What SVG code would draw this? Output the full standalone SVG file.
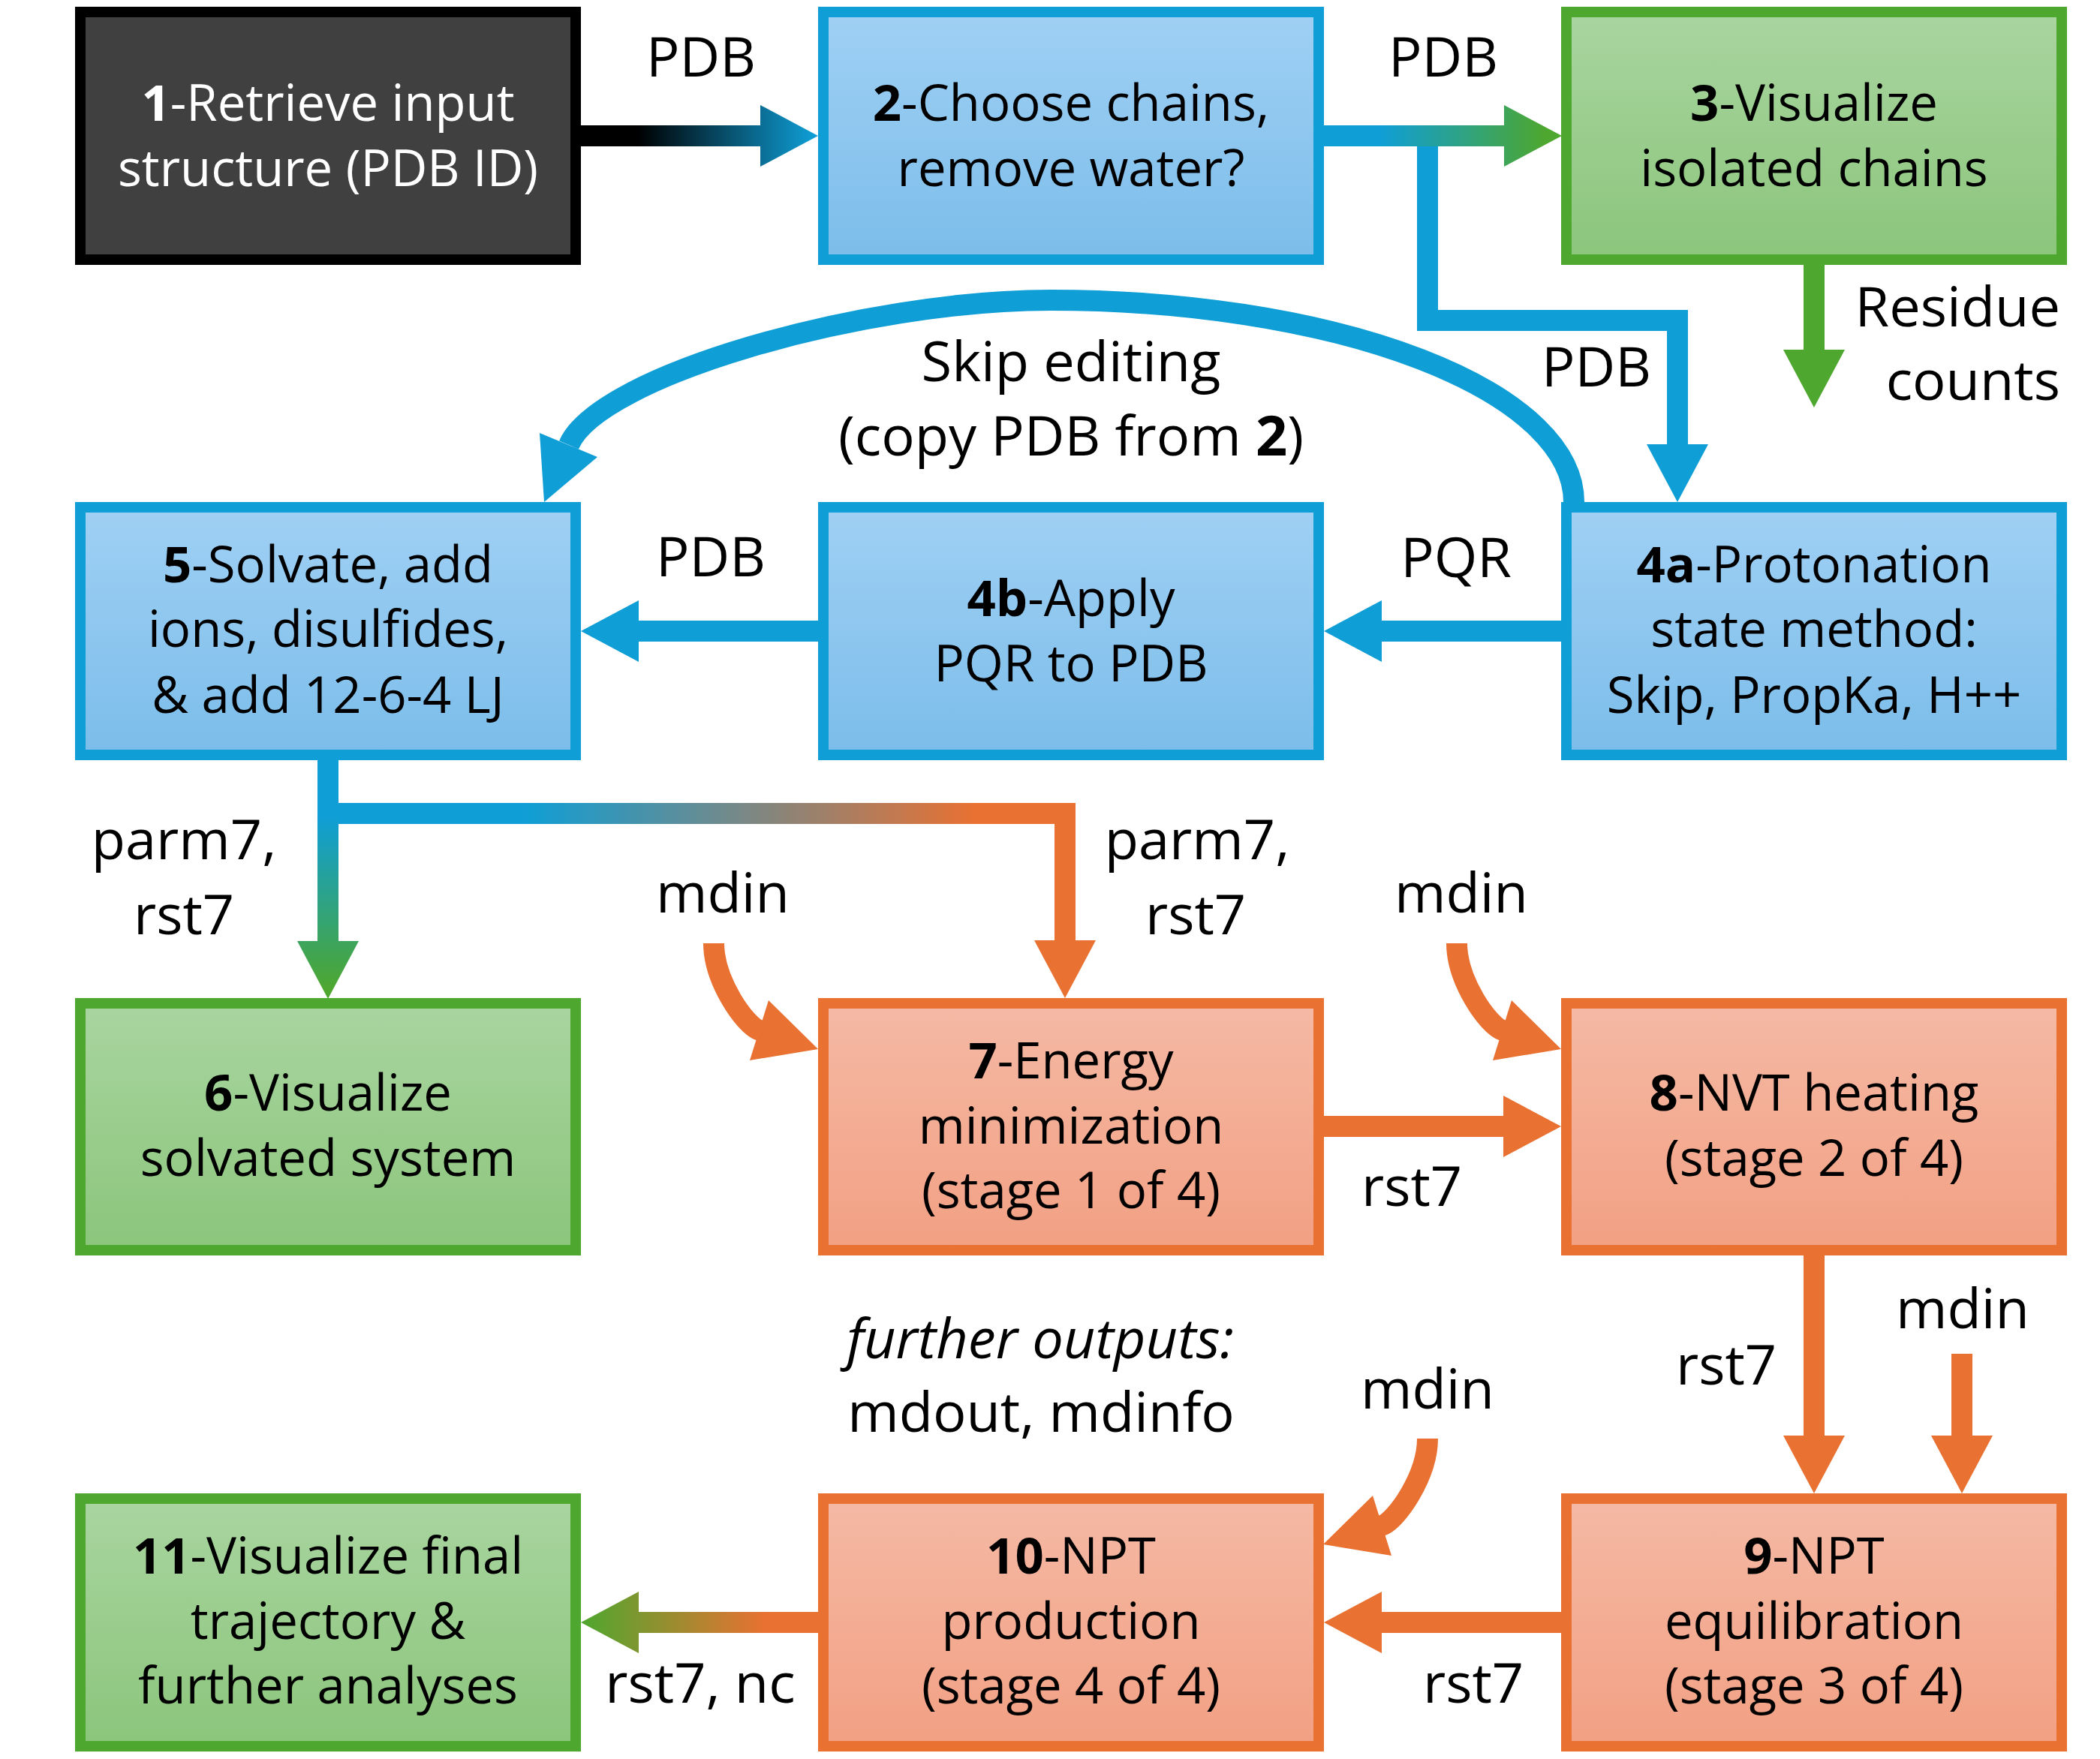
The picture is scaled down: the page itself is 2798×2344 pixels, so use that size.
<svg xmlns="http://www.w3.org/2000/svg" width="2798" height="2344" viewBox="0 0 2798 2344">
<defs>
<linearGradient id="fBlue" x1="0" y1="0" x2="0" y2="1"><stop offset="0" stop-color="#A0D0F4"/><stop offset="1" stop-color="#7BBDEA"/></linearGradient>
<linearGradient id="fGreen" x1="0" y1="0" x2="0" y2="1"><stop offset="0" stop-color="#A9D5A0"/><stop offset="1" stop-color="#8BC57B"/></linearGradient>
<linearGradient id="fOrange" x1="0" y1="0" x2="0" y2="1"><stop offset="0" stop-color="#F5B9A5"/><stop offset="1" stop-color="#F2A083"/></linearGradient>
<linearGradient id="g12" gradientUnits="userSpaceOnUse" x1="850" y1="0" x2="1085" y2="0"><stop offset="0" stop-color="#000000"/><stop offset="1" stop-color="#0F9ED5"/></linearGradient>
<linearGradient id="g23" gradientUnits="userSpaceOnUse" x1="1840" y1="0" x2="2060" y2="0"><stop offset="0" stop-color="#0F9ED5"/><stop offset="1" stop-color="#4EA72E"/></linearGradient>
<linearGradient id="g56" gradientUnits="userSpaceOnUse" x1="0" y1="1090" x2="0" y2="1320"><stop offset="0" stop-color="#0F9ED5"/><stop offset="1" stop-color="#4EA72E"/></linearGradient>
<linearGradient id="g57" gradientUnits="userSpaceOnUse" x1="700" y1="0" x2="1300" y2="0"><stop offset="0" stop-color="#0F9ED5"/><stop offset="1" stop-color="#E97132"/></linearGradient>
<linearGradient id="g1011" gradientUnits="userSpaceOnUse" x1="1020" y1="0" x2="774" y2="0"><stop offset="0" stop-color="#E97132"/><stop offset="1" stop-color="#4EA72E"/></linearGradient>
</defs>
<style>
text{font-family:"Open Sans","Liberation Sans",Arial,sans-serif;fill:#000;text-anchor:middle}
.bt{font-size:67px}
.lb{font-size:74px}
.w{fill:#fff}
.b{font-weight:bold}
.it{font-style:italic}
.box{stroke-width:14}
.bx-blue{fill:url(#fBlue);stroke:#0F9ED5}
.bx-green{fill:url(#fGreen);stroke:#4EA72E}
.bx-orange{fill:url(#fOrange);stroke:#E97132}
.bx-dark{fill:#404040;stroke:#000}
.sh{fill:none;stroke-width:28;stroke-linejoin:miter;stroke-linecap:butt}
.sb{stroke:#0F9ED5}.hb{fill:#0F9ED5}
.sg{stroke:#4EA72E}.hg{fill:#4EA72E}
.so{stroke:#E97132}.ho{fill:#E97132}
</style>

<g id="n1"><rect class="box bx-dark" x="107" y="16" width="660" height="330"/>
<text class="bt w" x="437" y="161"><tspan class="b">1</tspan>-Retrieve input</text>
<text class="bt w" x="437" y="248">structure (PDB ID)</text></g>

<g id="n2"><rect class="box bx-blue" x="1097" y="16" width="660" height="330"/>
<text class="bt" x="1427" y="161"><tspan class="b">2</tspan>-Choose chains,</text>
<text class="bt" x="1427" y="248">remove water?</text></g>

<g id="n3"><rect class="box bx-green" x="2087" y="16" width="660" height="330"/>
<text class="bt" x="2417" y="161"><tspan class="b">3</tspan>-Visualize</text>
<text class="bt" x="2417" y="248">isolated chains</text></g>

<g id="n4a"><rect class="box bx-blue" x="2087" y="676" width="660" height="330"/>
<text class="bt" x="2417" y="776"><tspan class="b">4a</tspan>-Protonation</text>
<text class="bt" x="2417" y="862">state method:</text>
<text class="bt" x="2417" y="950">Skip, PropKa, H++</text></g>

<g id="n4b"><rect class="box bx-blue" x="1097" y="676" width="660" height="330"/>
<text class="bt" x="1427" y="821"><tspan class="b">4b</tspan>-Apply</text>
<text class="bt" x="1427" y="908">PQR to PDB</text></g>

<g id="n5"><rect class="box bx-blue" x="107" y="676" width="660" height="330"/>
<text class="bt" x="437" y="776"><tspan class="b">5</tspan>-Solvate, add</text>
<text class="bt" x="437" y="862">ions, disulfides,</text>
<text class="bt" x="437" y="950">&amp; add 12-6-4 LJ</text></g>

<g id="n6"><rect class="box bx-green" x="107" y="1337" width="660" height="329"/>
<text class="bt" x="437" y="1480"><tspan class="b">6</tspan>-Visualize</text>
<text class="bt" x="437" y="1567">solvated system</text></g>

<g id="n7"><rect class="box bx-orange" x="1097" y="1337" width="660" height="329"/>
<text class="bt" x="1427" y="1437"><tspan class="b">7</tspan>-Energy</text>
<text class="bt" x="1427" y="1524">minimization</text>
<text class="bt" x="1427" y="1610">(stage 1 of 4)</text></g>

<g id="n8"><rect class="box bx-orange" x="2087" y="1337" width="660" height="329"/>
<text class="bt" x="2417" y="1480"><tspan class="b">8</tspan>-NVT heating</text>
<text class="bt" x="2417" y="1567">(stage 2 of 4)</text></g>

<g id="n9"><rect class="box bx-orange" x="2087" y="1997" width="660" height="330"/>
<text class="bt" x="2417" y="2097"><tspan class="b">9</tspan>-NPT</text>
<text class="bt" x="2417" y="2184">equilibration</text>
<text class="bt" x="2417" y="2270">(stage 3 of 4)</text></g>

<g id="n10"><rect class="box bx-orange" x="1097" y="1997" width="660" height="330"/>
<text class="bt" x="1427" y="2097"><tspan class="b">10</tspan>-NPT</text>
<text class="bt" x="1427" y="2184">production</text>
<text class="bt" x="1427" y="2270">(stage 4 of 4)</text></g>

<g id="n11"><rect class="box bx-green" x="107" y="1997" width="660" height="330"/>
<text class="bt" x="437" y="2097"><tspan class="b">11</tspan>-Visualize final</text>
<text class="bt" x="437" y="2184">trajectory &amp;</text>
<text class="bt" x="437" y="2270">further analyses</text></g>

<g id="connectors">
<path class="sh" stroke="url(#g12)" d="M774,181 H1015"/>
<polygon fill="url(#g12)" points="1013,140 1090,181 1013,222"/>
<path class="sh sb" d="M1902,181 V427 H2235 V594"/>
<polygon class="hb" points="2194,592 2235,669 2276,592"/>
<path class="sh" stroke="url(#g23)" d="M1764,181 H2006"/>
<polygon fill="url(#g23)" points="2004,140 2081,181 2004,222"/>
<path class="sh sg" d="M2417,353 V468"/>
<polygon class="hg" points="2376,466 2417,543 2458,466"/>
<path class="sh sb" d="M2097,669 A697,269 0 0 0 1400,400 C1150,400 797,501 758,593"/>
<polygon class="hb" points="719,577 725,669 796,609"/>
<path class="sh sb" d="M2080,841 H1839"/>
<polygon class="hb" points="1841,800 1764,841 1841,882"/>
<path class="sh sb" d="M1090,841 H849"/>
<polygon class="hb" points="851,800 774,841 851,882"/>
<path class="sh" stroke="url(#g57)" d="M437,1084 H1419 V1255"/>
<polygon class="ho" points="1378,1253 1419,1330 1460,1253"/>
<path class="sh" stroke="url(#g56)" d="M437,1013 V1256"/>
<polygon fill="url(#g56)" points="396,1254 437,1331 478,1254"/>
<path class="sh so" d="M951,1257 C951,1307 993,1367 1012,1373"/>
<polygon class="ho" points="1024,1333 1090,1398 999,1413"/>
<path class="sh so" d="M1941,1257 C1941,1307 1983,1367 2002,1373"/>
<polygon class="ho" points="2014,1333 2080,1398 1989,1413"/>
<path class="sh so" d="M1764,1501 H2005"/>
<polygon class="ho" points="2003,1460 2080,1501 2003,1542"/>
<path class="sh so" d="M2417,1673 V1915"/>
<polygon class="ho" points="2376,1913 2417,1990 2458,1913"/>
<path class="sh so" d="M2614,1804 V1915"/>
<polygon class="ho" points="2573,1913 2614,1990 2655,1913"/>
<path class="sh so" d="M1902,1917 C1902,1967 1860,2027 1841,2033"/>
<polygon class="ho" points="1829,1993 1763,2058 1854,2073"/>
<path class="sh so" d="M2080,2162 H1839"/>
<polygon class="ho" points="1841,2121 1764,2162 1841,2203"/>
<path class="sh" stroke="url(#g1011)" d="M1090,2162 H849"/>
<polygon fill="url(#g1011)" points="851,2121 774,2162 851,2203"/>
</g>

<g id="labels">
<text class="lb" x="934" y="102">PDB</text>
<text class="lb" x="1923" y="102">PDB</text>
<text class="lb" x="2745" y="435" style="text-anchor:end">Residue</text>
<text class="lb" x="2745" y="533" style="text-anchor:end">counts</text>
<text class="lb" x="2127" y="515">PDB</text>
<text class="lb" x="1427" y="508">Skip editing</text>
<text class="lb" x="1427" y="607">(copy PDB from <tspan class="b">2</tspan>)</text>
<text class="lb" x="1940" y="769">PQR</text>
<text class="lb" x="947" y="768">PDB</text>
<text class="lb" x="245" y="1145">parm7,</text>
<text class="lb" x="245" y="1245">rst7</text>
<text class="lb" x="963" y="1216">mdin</text>
<text class="lb" x="1595" y="1145">parm7,</text>
<text class="lb" x="1593" y="1245">rst7</text>
<text class="lb" x="1947" y="1216">mdin</text>
<text class="lb" x="1881" y="1607">rst7</text>
<text class="lb" x="2300" y="1845">rst7</text>
<text class="lb" x="2615" y="1770">mdin</text>
<text class="lb it" x="1386" y="1810">further outputs:</text>
<text class="lb" x="1387" y="1908">mdout, mdinfo</text>
<text class="lb" x="1902" y="1877">mdin</text>
<text class="lb" x="1963" y="2269">rst7</text>
<text class="lb" x="933" y="2269">rst7, nc</text>
</g>
</svg>
